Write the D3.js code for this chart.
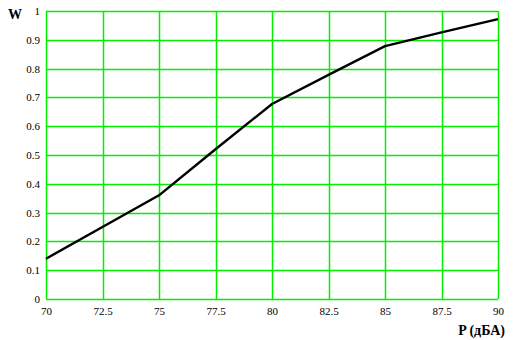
<!DOCTYPE html>
<html>
<head>
<meta charset="utf-8">
<script src="https://cdn.jsdelivr.net/npm/d3@7"></script>
<style>
  body { margin: 0; background: #fff; }
  svg { display: block; }
  .tick text { font-family: "Liberation Serif", "DejaVu Serif", serif; font-size: 11px; fill: #000; }
</style>
</head>
<body>
<div class="chart"></div>
<script>
// data
var noiseLevels = [70, 75, 77.5, 80, 82.5, 85, 87.5, 90];
var probability = [0.14, 0.36, 0.52, 0.677, 0.778, 0.878, 0.926, 0.972];
var xTicks = [70, 72.5, 75, 77.5, 80, 82.5, 85, 87.5, 90];
var yTicks = [0, 0.1, 0.2, 0.3, 0.4, 0.5, 0.6, 0.7, 0.8, 0.9, 1];

var svgWidth = 515;
var svgHeight = 340;
var margin = { top: 11, right: 17, bottom: 41, left: 46 };
var width = svgWidth - margin.left - margin.right;
var height = svgHeight - margin.top - margin.bottom;

var svg = d3.select(".chart")
  .append("svg")
  .attr("width", svgWidth)
  .attr("height", svgHeight);

var chartGroup = svg.append("g")
  .attr("transform", `translate(${margin.left}, ${margin.top})`);

var xScale = d3.scaleLinear().domain([70, 90]).range([0, width]);
var yScale = d3.scaleLinear().domain([0, 1]).range([height, 0]);

// grid
chartGroup.append("g")
  .selectAll("line")
  .data(xTicks)
  .enter()
  .append("line")
  .attr("x1", d => Math.round(xScale(d)) + 0.5).attr("x2", d => Math.round(xScale(d)) + 0.5)
  .attr("y1", 0).attr("y2", height)
  .attr("stroke", "#00f000")
  .attr("stroke-width", 1.5);

chartGroup.append("g")
  .selectAll("line")
  .data(yTicks)
  .enter()
  .append("line")
  .attr("x1", 0).attr("x2", width)
  .attr("y1", d => Math.round(yScale(d)) + 0.5).attr("y2", d => Math.round(yScale(d)) + 0.5)
  .attr("stroke", "#00f000")
  .attr("stroke-width", 1.5);

// axes (labels only)
var bottomAxis = d3.axisBottom(xScale).tickValues(xTicks).tickSize(0).tickPadding(8).tickFormat(d => d);
var leftAxis = d3.axisLeft(yScale).tickValues(yTicks).tickSize(0).tickPadding(6).tickFormat(d => d);

var xAxisG = chartGroup.append("g")
  .attr("transform", `translate(0, ${height})`)
  .call(bottomAxis);
xAxisG.select(".domain").remove();

var yAxisG = chartGroup.append("g").call(leftAxis);
yAxisG.select(".domain").remove();

// curve
var line = d3.line()
  .x((d, i) => xScale(noiseLevels[i]))
  .y(d => yScale(d));

chartGroup.append("path")
  .datum(probability)
  .attr("d", line)
  .attr("fill", "none")
  .attr("stroke", "#000")
  .attr("stroke-width", 2.4)
  .attr("stroke-linejoin", "round");

// axis titles
svg.append("text")
  .attr("x", 8).attr("y", 19)
  .style("font-family", "Liberation Serif, DejaVu Serif, serif")
  .style("font-weight", "bold")
  .style("font-size", "14px")
  .text("W");

svg.append("text")
  .attr("x", 505).attr("y", 335)
  .attr("text-anchor", "end")
  .style("font-family", "Liberation Serif, DejaVu Serif, serif")
  .style("font-weight", "bold")
  .style("font-size", "14px")
  .text("P (дБА)");
</script>
</body>
</html>
